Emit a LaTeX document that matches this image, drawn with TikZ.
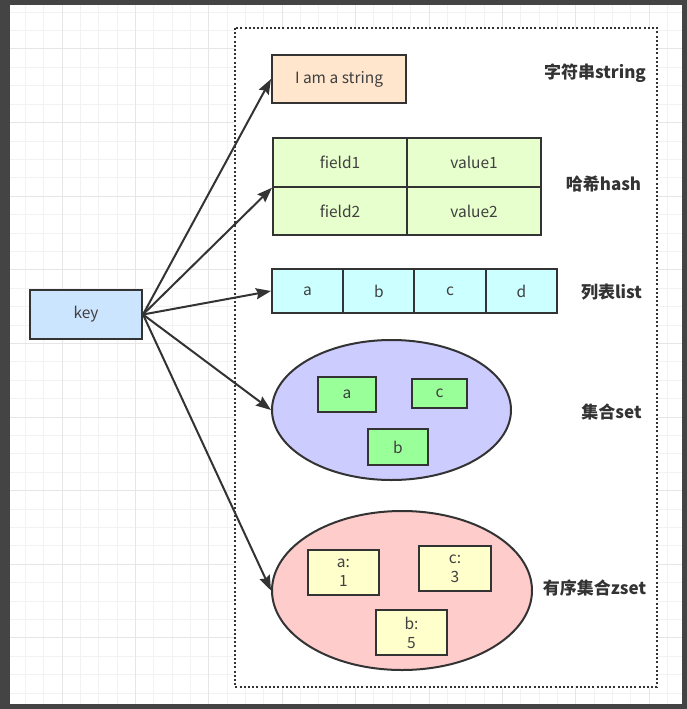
\documentclass[tikz,border=0pt]{standalone}
\usepackage{fontspec}
\setmainfont{Noto Sans CJK SC}
\usetikzlibrary{arrows.meta,shapes.geometric}
\definecolor{framec}{HTML}{444444}
\definecolor{gridminor}{HTML}{F2F2F2}
\definecolor{gridmajor}{HTML}{E6E6E6}
\definecolor{strokec}{HTML}{333333}
\definecolor{textc}{HTML}{404040}
\definecolor{keyc}{HTML}{CCE5FF}
\definecolor{strc}{HTML}{FFE6CC}
\definecolor{hashc}{HTML}{E6FFCC}
\definecolor{listc}{HTML}{CCFFFF}
\definecolor{setc}{HTML}{CCCCFF}
\definecolor{setitem}{HTML}{99FF99}
\definecolor{zsetc}{HTML}{FFCCCC}
\definecolor{zitem}{HTML}{FFFFCC}
\begin{document}
\begin{tikzpicture}[x=1pt,y=-1pt,
  box/.style={draw=strokec, line width=2pt, text=textc, inner sep=0pt,
    font=\fontsize{15.5}{19}\selectfont, align=center},
  oval/.style={ellipse, draw=strokec, line width=2pt, inner sep=0pt},
  lbl/.style={font=\fontsize{17}{20}\selectfont\bfseries, text=strokec, inner sep=0pt},
  conn/.style={draw=strokec, line width=2pt, -{Stealth[length=15pt,width=11pt,inset=2pt]}}]
\useasboundingbox (0,0) rectangle (687,709);
\fill[framec] (0,0) rectangle (687,709);
\fill[white] (10,5) rectangle (682,704);
\begin{scope}
\clip (10,5) rectangle (682,704);
\foreach \i in {-2,...,33} \draw[gridminor, line width=1pt] ({62+18.35*\i},5) -- ({62+18.35*\i},704);
\foreach \j in {-2,...,35} \draw[gridminor, line width=1pt] (10,{49+18.4*\j}) -- (682,{49+18.4*\j});
\foreach \i in {0,4,...,32} \draw[gridmajor, line width=1pt] ({62+18.35*\i},5) -- ({62+18.35*\i},704);
\foreach \j in {-4,0,...,32} \draw[gridmajor, line width=1pt] (10,{49+18.4*\j}) -- (682,{49+18.4*\j});
\end{scope}
% dotted container
\draw[fill=white, draw=strokec, line width=2pt, dash pattern=on 2pt off 2.2pt]
  (235,28) rectangle (657,687);
% key
\node[box, fill=keyc, minimum width=112pt, minimum height=49pt] (key) at (86,314.5) {key};
% string
\node[box, fill=strc, minimum width=134pt, minimum height=48pt] (str) at (339,79) {I am a string};
% hash
\node[box, fill=hashc, minimum width=134pt, minimum height=48.5pt] (f1) at (340,162.5) {field1};
\node[box, fill=hashc, minimum width=134pt, minimum height=48.5pt] (v1) at (474,162.5) {value1};
\node[box, fill=hashc, minimum width=134pt, minimum height=48.5pt] (f2) at (340,211) {field2};
\node[box, fill=hashc, minimum width=134pt, minimum height=48.5pt] (v2) at (474,211) {value2};
% list
\node[box, fill=listc, minimum width=71.25pt, minimum height=44pt] (la) at (307.6,291) {a};
\node[box, fill=listc, minimum width=71.25pt, minimum height=44pt] (lb) at (378.9,291) {b};
\node[box, fill=listc, minimum width=71.25pt, minimum height=44pt] (lc) at (450.1,291) {c};
\node[box, fill=listc, minimum width=71.25pt, minimum height=44pt] (ld) at (521.4,291) {d};
% set
\node[oval, fill=setc, minimum width=239pt, minimum height=140pt] (set) at (391.5,410) {};
\node[box, fill=setitem, minimum width=58pt, minimum height=35pt] (sa) at (347,394.5) {a};
\node[box, fill=setitem, minimum width=55pt, minimum height=29pt] (sc) at (439.5,393.5) {c};
\node[box, fill=setitem, minimum width=60pt, minimum height=36pt] (sb) at (398,447) {b};
% zset
\node[oval, fill=zsetc, minimum width=260pt, minimum height=159pt] (zset) at (402,590.5) {};
\node[box, fill=zitem, minimum width=71pt, minimum height=45pt] (za) at (343.5,572.5) {a:\\1};
\node[box, fill=zitem, minimum width=72pt, minimum height=45pt] (zc) at (455,568.5) {c:\\3};
\node[box, fill=zitem, minimum width=71pt, minimum height=45pt] (zb) at (411.5,632.5) {b:\\5};
% labels
\node[lbl] (lstr) at (595,73) {字符串string};
\node[lbl] (lhash) at (603.5,184) {哈希hash};
\node[lbl] (llist) at (611.5,292) {列表list};
\node[lbl] (lset) at (611.5,412) {集合set};
\node[lbl] (lzset) at (594.5,588) {有序集合zset};
% connectors
\draw[conn] (key.east) -- (str.west);
\draw[conn] (key.east) -- (f1.south west);
\draw[conn] (key.east) -- (la.west);
\draw[conn] (key.east) -- (set.west);
\draw[conn] (key.east) -- (zset.west);
\end{tikzpicture}
\end{document}
